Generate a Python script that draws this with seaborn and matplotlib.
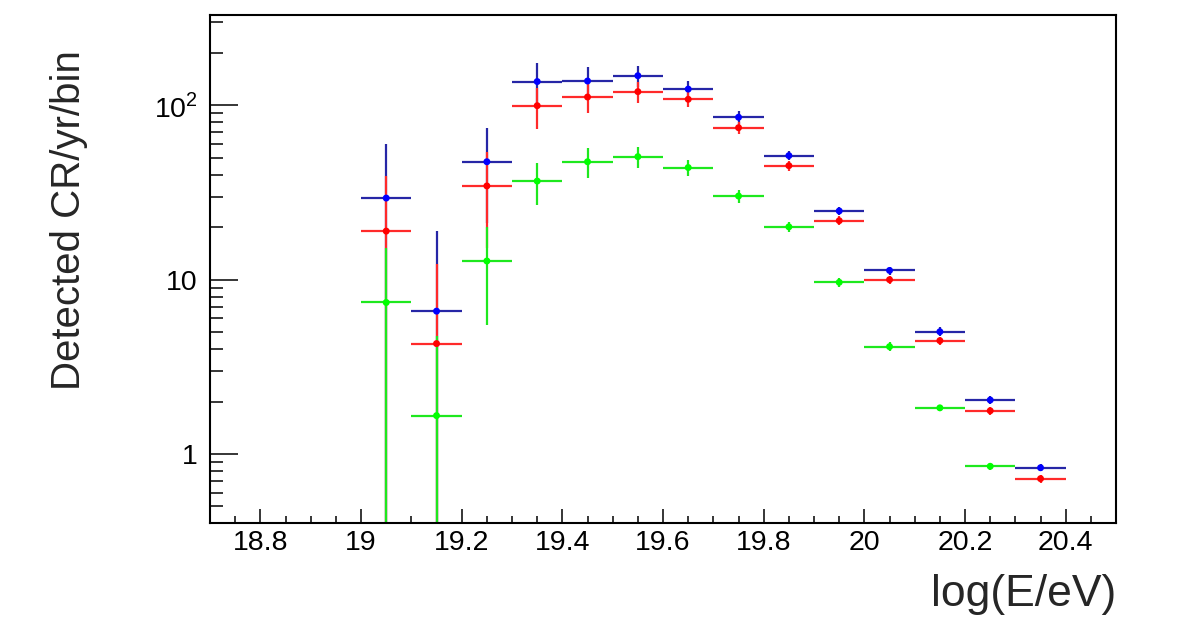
import matplotlib
matplotlib.use("Agg")
import matplotlib.pyplot as plt
import matplotlib.ticker as mticker
import numpy as np
import pandas as pd
import seaborn as sns

# bin centres of log(E/eV), bin width 0.1
bin_centers = [19.05, 19.15, 19.25, 19.35, 19.45, 19.55, 19.65,
               19.75, 19.85, 19.95, 20.05, 20.15, 20.25, 20.35]
half_width = 0.05

# detected cosmic rays per year per bin (three samples)
blue_vals = [29.4, 6.6, 47.5, 137, 138, 148, 124, 85.5, 51.5, 24.8, 11.3, 5.03, 2.04, 0.834]
blue_errs = [31, 12.4, 26.4, 38, 27.5, 20, 14, 7.4, 3.2, 1.4, 0.6, 0.3, 0.1, 0.04]
red_vals = [19.0, 4.3, 34.5, 99.6, 111.7, 119.9, 108.4, 74.5, 45.1, 21.8, 10.0, 4.47, 1.77, 0.722]
red_errs = [20.5, 8.0, 19.3, 26.7, 21.6, 17, 11, 6, 2.9, 1.3, 0.5, 0.25, 0.09, 0.04]
green_vals = [7.4, 1.66, 12.8, 36.8, 47.5, 50.8, 44, 30.2, 20.1, 9.66, 4.13, 1.84, 0.85]
green_errs = [7.9, 3.1, 7.3, 9.9, 9.2, 7, 4.6, 2.5, 1.3, 0.6, 0.25, 0.08, 0.04]

x_ticks = [18.8, 19.0, 19.2, 19.4, 19.6, 19.8, 20.0, 20.2, 20.4]
y_ticks = [1, 10, 100]
y_tick_labels = ["1", "10", "10$^{2}$"]

sns.set_theme(style="ticks")
plt.rcParams["font.family"] = ["Liberation Sans", "DejaVu Sans"]
plt.rcParams["mathtext.fontset"] = "custom"
plt.rcParams["mathtext.rm"] = "Liberation Sans"

series = [
    ("blue", blue_vals, blue_errs, "#2626a6", "#0000ff"),
    ("red", red_vals, red_errs, "#ff2a2a", "#ff0000"),
    ("green", green_vals, green_errs, "#1ee81e", "#00ff00"),
]

rows = []
for name, vals, errs, _, _ in series:
    for xc, v in zip(bin_centers, vals):
        rows.append({"x": xc, "y": v, "sample": name})
df = pd.DataFrame(rows)

fig = plt.figure(figsize=(11.82, 6.36), dpi=100)
ax = fig.add_axes([0.1777, 0.1777, 0.7665, 0.7987])

ymin, ymax = 0.402, 330
for name, vals, errs, lcol, mcol in series:
    v = np.array(vals)
    e = np.array(errs)
    lo = np.minimum(e, v - ymin * 0.5)  # clip to the bottom of the frame
    ax.errorbar(bin_centers[:len(v)], v, xerr=half_width, yerr=[lo, e],
                fmt="none", ecolor=lcol, elinewidth=1.6, capsize=0)

sns.scatterplot(data=df, x="x", y="y", hue="sample",
                palette={"blue": "#0000ff", "red": "#ff0000", "green": "#00ff00"},
                s=25, edgecolor="none", legend=False, ax=ax, zorder=5)

ax.set_yscale("log")
ax.set_xlim(18.7, 20.5)
ax.set_ylim(ymin, ymax)

ax.xaxis.set_major_locator(mticker.FixedLocator(x_ticks))
ax.xaxis.set_major_formatter(mticker.FixedFormatter([f"{t:g}" for t in x_ticks]))
ax.xaxis.set_minor_locator(mticker.MultipleLocator(0.05))
ax.yaxis.set_major_locator(mticker.FixedLocator(y_ticks))
ax.yaxis.set_major_formatter(mticker.FixedFormatter(y_tick_labels))
ax.yaxis.set_minor_locator(mticker.LogLocator(base=10, subs=np.arange(2, 10)))
ax.yaxis.set_minor_formatter(mticker.NullFormatter())

ax.tick_params(axis="both", which="both", direction="in", width=1.1, color="black",
               labelsize=20.5, labelcolor="black")
ax.tick_params(axis="x", which="major", length=10, pad=5)
ax.tick_params(axis="x", which="minor", length=5)
ax.tick_params(axis="y", which="major", length=20, pad=9)
ax.tick_params(axis="y", which="minor", length=9.5)

for sp in ax.spines.values():
    sp.set_linewidth(1.5)
    sp.set_color("black")

ax.set_xlabel("log(E/eV)", fontsize=32, loc="right")
ax.set_ylabel("Detected CR/yr/bin", fontsize=29, loc="top")
ax.xaxis.set_label_coords(1.0, -0.1)
ax.yaxis.set_label_coords(-0.135, 0.93)

fig.savefig("out.png", dpi=100, facecolor="white")
